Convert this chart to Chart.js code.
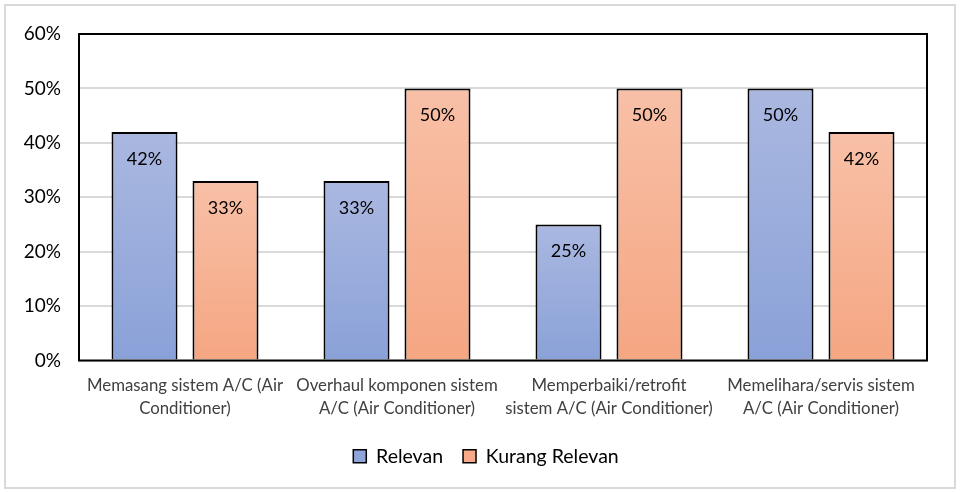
<!DOCTYPE html>
<html>
<head>
<meta charset="utf-8">
<script src="https://cdn.jsdelivr.net/npm/chart.js@4.4.1/dist/chart.umd.min.js"></script>
<style>
  html, body { margin: 0; padding: 0; background: #fff; }
  .frame {
    position: absolute; left: 4px; top: 4px; width: 948px; height: 481px;
    border: 2px solid #d9d9d9;
  }
  .holder { position: absolute; left: 0; top: 0; width: 960px; height: 492px; }
</style>
</head>
<body>
<div class="frame"></div>
<div class="holder"><canvas id="chart" width="960" height="492"></canvas></div>
<script>
const categories = [
  ["Memasang sistem A/C (Air", "Conditioner)"],
  ["Overhaul komponen sistem", "A/C (Air Conditioner)"],
  ["Memperbaiki/retrofit", "sistem A/C (Air Conditioner)"],
  ["Memelihara/servis sistem", "A/C (Air Conditioner)"],
];
const relevan = [42, 33, 25, 50];
const kurangRelevan = [33, 50, 50, 42];
const seriesNames = ["Relevan", "Kurang Relevan"];
const yTicks = [0, 10, 20, 30, 40, 50, 60];

const FONT = "Lato, 'Open Sans', sans-serif";

// vertical gradient per bar, lighter at the top
function barFill(top, bottom) {
  return (ctx) => {
    const chart = ctx.chart;
    if (!chart.chartArea || ctx.parsed === undefined) return bottom;
    const y = chart.scales.y;
    const y0 = y.getPixelForValue(ctx.parsed.y);
    const y1 = y.getPixelForValue(0);
    const g = chart.ctx.createLinearGradient(0, y0, 0, y1);
    g.addColorStop(0, top);
    g.addColorStop(1, bottom);
    return g;
  };
}

// black frame round the plot area
const plotFrame = {
  id: "plotFrame",
  afterDatasetsDraw(chart) {
    const { ctx, chartArea: a } = chart;
    ctx.save();
    ctx.strokeStyle = "#000";
    ctx.lineWidth = 2;
    ctx.strokeRect(a.left, a.top, a.right - a.left, a.bottom - a.top);
    ctx.restore();
  },
};

// value labels just inside the top of each bar
const valueLabels = {
  id: "valueLabels",
  afterDatasetsDraw(chart) {
    const { ctx } = chart;
    ctx.save();
    ctx.font = "18px " + FONT;
    ctx.fillStyle = "#000";
    ctx.textAlign = "center";
    ctx.textBaseline = "middle";
    chart.data.datasets.forEach((ds, i) => {
      chart.getDatasetMeta(i).data.forEach((bar, j) => {
        ctx.fillText(ds.data[j] + "%", bar.x, bar.y + 27);
      });
    });
    ctx.restore();
  },
};

new Chart(document.getElementById("chart"), {
  type: "bar",
  data: {
    labels: categories,
    datasets: [
      {
        label: seriesNames[0],
        data: relevan,
        backgroundColor: barFill("#aab8e0", "#8aa1d8"),
        borderColor: "#000",
        borderWidth: 2,
      },
      {
        label: seriesNames[1],
        data: kurangRelevan,
        backgroundColor: barFill("#f8c0a7", "#f5a682"),
        borderColor: "#000",
        borderWidth: 2,
      },
    ],
  },
  options: {
    responsive: false,
    animation: false,
    layout: { padding: { top: 34, right: 0, left: 12, bottom: 16 } },
    datasets: {
      bar: { categoryPercentage: 0.764, barPercentage: 0.815 },
    },
    scales: {
      x: {
        grid: { display: false },
        border: { display: false },
        ticks: {
          color: "#404040",
          font: { family: FONT, size: 16.8, lineHeight: 1.38 },
          padding: 5.5,
          maxRotation: 0,
          autoSkip: false,
        },
        afterFit(scale) { scale.height = 66; },
      },
      y: {
        min: 0,
        max: 60,
        afterBuildTicks(scale) { scale.ticks = yTicks.map((v) => ({ value: v })); },
        grid: { color: "#d9d9d9", lineWidth: 2, drawTicks: false },
        border: { display: false },
        ticks: {
          color: "#000",
          font: { family: FONT, size: 19 },
          padding: 18,
          callback: (v) => v + "%",
        },
        afterFit(scale) { scale.width = 67; },
      },
      // empty right-hand gutter so the legend stays centred on the page
      gutter: {
        type: "linear",
        position: "right",
        grid: { display: false },
        border: { display: false },
        ticks: { display: false },
        afterFit(scale) { scale.width = 33; },
      },
    },
    plugins: {
      legend: {
        position: "bottom",
        labels: {
          color: "#000",
          font: { family: FONT, size: 19.5 },
          boxWidth: 13,
          boxHeight: 13,
          padding: 20,
          generateLabels(chart) {
            return chart.data.datasets.map((ds, i) => ({
              text: ds.label,
              fillStyle: i === 0 ? "#8ea5d9" : "#f6aa88",
              strokeStyle: "#000",
              lineWidth: 1.5,
              datasetIndex: i,
            }));
          },
        },
      },
      tooltip: { enabled: false },
    },
  },
  plugins: [plotFrame, valueLabels],
});
</script>
</body>
</html>
